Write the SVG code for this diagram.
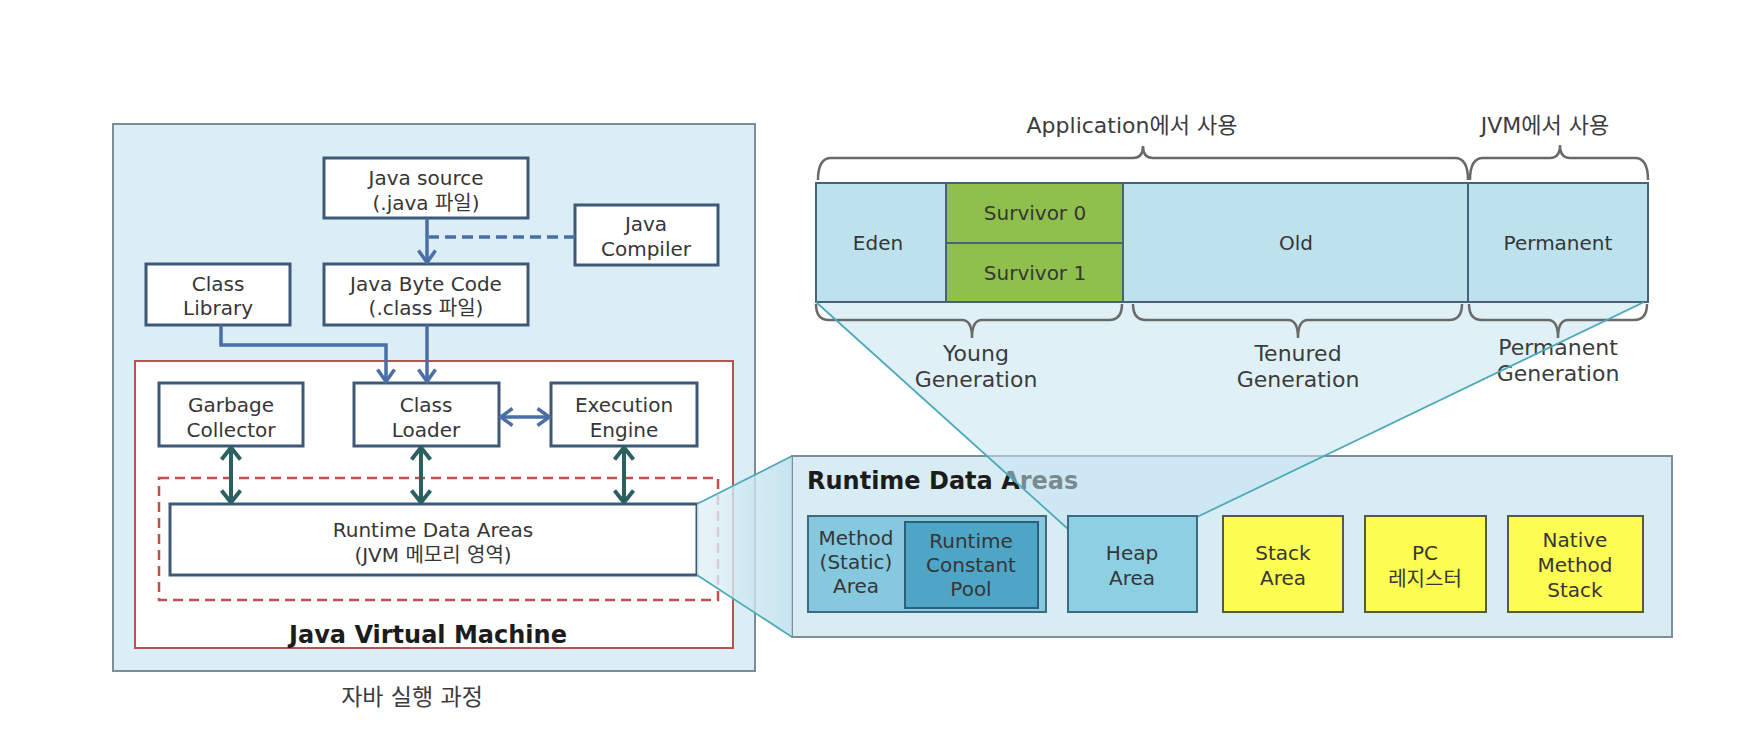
<svg xmlns="http://www.w3.org/2000/svg" width="1740" height="750" viewBox="0 0 1740 750">
<style>
text{font-family:"DejaVu Sans","Noto Sans CJK KR",sans-serif;font-size:20px;fill:#363636;text-anchor:middle}
.lbl{font-size:22px;fill:#3c3c3c}
.ttl{font-weight:bold;font-size:24px;fill:#1c1c1c}
.box{fill:#ffffff;stroke:#3e5877;stroke-width:3}
.bar{fill:#bde2ee;stroke:#46637a;stroke-width:2}
.sv{fill:#8fc04c;stroke:#46637a;stroke-width:2}
.yl{fill:#fcfc52;stroke:#5a5a44;stroke-width:2}
.brace{fill:none;stroke:#6a6a6a;stroke-width:2.5}
.blue{fill:none;stroke:#4a6ea6;stroke-width:3.5}
.teal{fill:none;stroke:#2b5f60;stroke-width:4}
.lnk{fill:none;stroke:#4eaabb;stroke-width:1.8}
</style>
<defs>
<marker id="ab" viewBox="0 0 16 20" refX="14" refY="10" markerWidth="16" markerHeight="20" orient="auto-start-reverse" markerUnits="userSpaceOnUse"><path d="M1.5,1.5 L13.5,10 L1.5,18.5" fill="none" stroke="#4a6ea6" stroke-width="3.5"/></marker>
<marker id="at" viewBox="0 0 16 22" refX="14" refY="11" markerWidth="16" markerHeight="22" orient="auto-start-reverse" markerUnits="userSpaceOnUse"><path d="M1.5,1.5 L13.5,11 L1.5,20.5" fill="none" stroke="#2b5f60" stroke-width="4"/></marker>
<linearGradient id="fg" x1="0" y1="0" x2="1" y2="0"><stop offset="0" stop-color="#e3f3f8"/><stop offset="1" stop-color="#b8deeb"/></linearGradient>
</defs>
<rect width="1740" height="750" fill="#ffffff"/>

<g id="jvm-process">
<rect x="113" y="124" width="642" height="547" fill="#dbeef5" stroke="#7c8c98" stroke-width="2"/>
</g>
<g id="java-virtual-machine">
<rect x="135" y="361" width="598" height="287" fill="#ffffff" stroke="#b85450" stroke-width="2"/>
<rect x="159" y="478" width="559" height="122" fill="none" stroke="#c0504d" stroke-width="2.5" stroke-dasharray="10,6"/>
<text class="ttl" x="428" y="643">Java Virtual Machine</text>
</g>
<g id="java-source"><rect class="box" x="324" y="158" width="204" height="60"/><text x="426" y="185">Java source</text><text x="426" y="210">(.java 파일)</text></g>
<g id="java-compiler"><rect class="box" x="575" y="205" width="143" height="60"/><text x="646" y="231">Java</text><text x="646" y="256">Compiler</text></g>
<g id="class-library"><rect class="box" x="146" y="264" width="144" height="61"/><text x="218" y="291">Class</text><text x="218" y="315">Library</text></g>
<g id="java-byte-code"><rect class="box" x="324" y="264" width="204" height="61"/><text x="426" y="291">Java Byte Code</text><text x="426" y="315">(.class 파일)</text></g>
<g id="garbage-collector"><rect class="box" x="159" y="383" width="144" height="63"/><text x="231" y="412">Garbage</text><text x="231" y="437">Collector</text></g>
<g id="class-loader"><rect class="box" x="354" y="383" width="145" height="63"/><text x="426" y="412">Class</text><text x="426" y="437">Loader</text></g>
<g id="execution-engine"><rect class="box" x="551" y="383" width="146" height="63"/><text x="624" y="412">Execution</text><text x="624" y="437">Engine</text></g>
<g id="runtime-data-areas-jvm"><rect class="box" x="170" y="504" width="527" height="71"/><text x="433" y="537">Runtime Data Areas</text><text x="433" y="562">(JVM 메모리 영역)</text></g>
<text class="lbl" x="412" y="705" style="font-size:23px">자바 실행 과정</text>

<g id="runtime-data-areas-panel">
<rect x="792" y="456" width="880" height="181" fill="#d8ecf4" stroke="#7f8e99" stroke-width="2"/>
<text class="ttl" x="807" y="489" style="text-anchor:start">Runtime Data Areas</text>
</g>

<g id="zoom-funnels">
<polygon points="697,504 792,456 792,637 697,575" fill="url(#fg)" opacity="0.8"/>
<polygon points="816,302 1068,529 1068,516 1197,516 1648,302" fill="#c4e5f1" opacity="0.55"/>
</g>

<g id="heap-bar">
<rect class="bar" x="816" y="183" width="130" height="119"/>
<text x="878" y="250">Eden</text>
<rect class="sv" x="946" y="183" width="177" height="60"/>
<text x="1035" y="220">Survivor 0</text>
<rect class="sv" x="946" y="243" width="177" height="59"/>
<text x="1035" y="280">Survivor 1</text>
<rect class="bar" x="1123" y="183" width="345" height="119"/>
<text x="1296" y="250">Old</text>
<rect class="bar" x="1468" y="183" width="180" height="119"/>
<text x="1558" y="250">Permanent</text>
</g>

<g id="braces">
<path class="brace" d="M818,180 Q818,158 831,158 L1133,158 Q1143,158 1143,146 Q1143,158 1153,158 L1455,158 Q1468,158 1468,180"/>
<path class="brace" d="M1470,180 Q1470,158 1483,158 L1550,158 Q1560,158 1560,145 Q1560,158 1570,158 L1635,158 Q1648,158 1648,180"/>
<path class="brace" d="M816,304 Q816,320 829,320 L962,320 Q972,320 972,338 Q972,320 982,320 L1109,320 Q1122,320 1122,304"/>
<path class="brace" d="M1133,304 Q1133,320 1146,320 L1288,320 Q1298,320 1298,338 Q1298,320 1308,320 L1449,320 Q1462,320 1462,304"/>
<path class="brace" d="M1469,304 Q1469,320 1482,320 L1548,320 Q1558,320 1558,338 Q1558,320 1568,320 L1634,320 Q1647,320 1647,304"/>
<text class="lbl" x="1132" y="133">Application에서 사용</text>
<text class="lbl" x="1545" y="133">JVM에서 사용</text>
<text class="lbl" x="976" y="361">Young</text><text class="lbl" x="976" y="387">Generation</text>
<text class="lbl" x="1298" y="361">Tenured</text><text class="lbl" x="1298" y="387">Generation</text>
<text class="lbl" x="1558" y="355">Permanent</text><text class="lbl" x="1558" y="381">Generation</text>
</g>

<g id="connectors">
<line class="lnk" x1="697" y1="504" x2="792" y2="456"/>
<line class="lnk" x1="697" y1="575" x2="792" y2="637"/>
<line class="lnk" x1="816" y1="302" x2="1068" y2="529"/>
<line class="lnk" x1="1197" y1="517" x2="1644" y2="302"/>
<line class="blue" x1="427" y1="218" x2="427" y2="263" marker-end="url(#ab)"/>
<line class="blue" x1="575" y1="237" x2="429" y2="237" stroke-dasharray="11,6"/>
<path class="blue" d="M221,325 V345 H386 V382" marker-end="url(#ab)"/>
<line class="blue" x1="427" y1="325" x2="427" y2="382" marker-end="url(#ab)"/>
<line class="blue" x1="500" y1="417" x2="550" y2="417" marker-start="url(#ab)" marker-end="url(#ab)"/>
<line class="teal" x1="231" y1="447" x2="231" y2="503" marker-start="url(#at)" marker-end="url(#at)"/>
<line class="teal" x1="421" y1="447" x2="421" y2="503" marker-start="url(#at)" marker-end="url(#at)"/>
<line class="teal" x1="624" y1="447" x2="624" y2="503" marker-start="url(#at)" marker-end="url(#at)"/>
</g>

<g id="method-area"><rect x="808" y="516" width="238" height="96" fill="#86c8de" stroke="#3f6a80" stroke-width="2"/>
<text x="856" y="545">Method</text><text x="856" y="569">(Static)</text><text x="856" y="593">Area</text></g>
<g id="runtime-constant-pool"><rect x="905" y="522" width="133" height="86" fill="#4fa5c6" stroke="#2e5f78" stroke-width="2"/>
<text x="971" y="548">Runtime</text><text x="971" y="572">Constant</text><text x="971" y="596">Pool</text></g>
<g id="heap-area"><rect x="1068" y="516" width="129" height="96" fill="#8dcfe3" stroke="#3f6a80" stroke-width="2"/>
<text x="1132" y="560">Heap</text><text x="1132" y="585">Area</text></g>
<g id="stack-area"><rect class="yl" x="1223" y="516" width="120" height="96"/><text x="1283" y="560">Stack</text><text x="1283" y="585">Area</text></g>
<g id="pc-register"><rect class="yl" x="1365" y="516" width="121" height="96"/><text x="1425" y="560">PC</text><text x="1425" y="586">레지스터</text></g>
<g id="native-method-stack"><rect class="yl" x="1508" y="516" width="135" height="96"/><text x="1575" y="547">Native</text><text x="1575" y="572">Method</text><text x="1575" y="597">Stack</text></g>
</svg>
